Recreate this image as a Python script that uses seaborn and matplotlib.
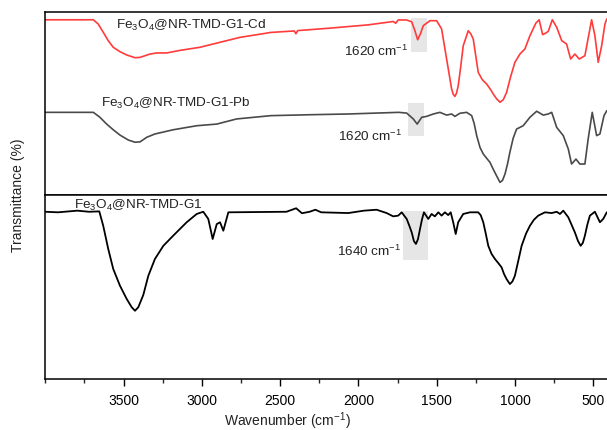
"""
FTIR spectra: Fe3O4@NR-TMD-G1 before and after Cd / Pb adsorption
"""
import numpy as np
import matplotlib.pyplot as plt
import pandas as pd
import seaborn as sns
from matplotlib.patches import Rectangle
from matplotlib.ticker import MultipleLocator

# wavenumber (cm-1) / transmittance (a.u.)
wn_cd = [4000, 3693, 3662, 3630, 3598, 3566, 3523, 3480, 3427, 3395, 3331, 3289, 3225, 3140, 3012, 2885,
         2757, 2559, 2410, 2399, 2388, 2188, 1941, 1792, 1778, 1762, 1746, 1694, 1660, 1641, 1622, 1604,
         1586, 1543, 1501, 1469, 1437, 1405, 1395, 1384, 1374, 1363, 1347, 1331, 1299, 1283, 1267, 1251,
         1235, 1210, 1181, 1160, 1139, 1118, 1096, 1075, 1054, 1030, 1001, 969, 937, 905, 867, 846, 824,
         803, 788, 762, 734, 702, 671, 645, 618, 590, 554, 511, 490, 469, 447, 426, 414, 400]
t_cd = [95.6, 95.6, 93.3, 88.8, 84.2, 80.6, 78.2, 76.4, 74.9, 75.1, 76.9, 77.5, 77.5, 78.9, 80.6, 83.3,
        86.0, 88.7, 89.5, 88.0, 89.7, 91.0, 92.8, 94.5, 94.7, 93.7, 95.5, 95.5, 94.5, 90.0, 84.7, 88.0,
        92.4, 95.1, 95.1, 90.6, 74.2, 57.8, 55.0, 53.8, 55.5, 59.6, 70.0, 81.4, 89.6, 88.0, 85.1, 76.0,
        66.9, 63.0, 60.5, 58.0, 55.1, 52.5, 50.6, 52.0, 56.0, 64.0, 72.4, 76.9, 79.7, 86.9, 93.8, 95.6, 87.5,
        88.4, 89.3, 95.6, 91.5, 84.2, 82.4, 74.2, 76.9, 74.2, 76.0, 95.6, 86.9, 72.4, 81.4, 93.3, 96.0, 96.0]

wn_pb = [4000, 3693, 3651, 3608, 3566, 3523, 3470, 3427, 3395, 3352, 3300, 3183, 3033, 2905, 2778, 2559,
         2312, 2067, 1743, 1692, 1650, 1625, 1596, 1565, 1522, 1480, 1437, 1405, 1384, 1352, 1309, 1277,
         1261, 1245, 1224, 1203, 1181, 1160, 1139, 1118, 1096, 1080, 1064, 1048, 1033, 1012, 990, 948,
         905, 862, 820, 788, 766, 734, 692, 660, 639, 611, 586, 554, 533, 507, 479, 458, 432, 414, 400]
t_pb = [45.1, 45.1, 42.4, 38.7, 35.6, 32.7, 30.0, 28.8, 29.0, 31.5, 33.3, 35.6, 37.8, 38.7, 41.5, 43.3,
        43.8, 44.2, 45.1, 44.7, 41.5, 38.7, 42.4, 42.9, 44.2, 45.1, 43.6, 44.2, 42.9, 44.6, 45.1, 43.3,
        39.0, 32.4, 26.0, 22.4, 20.0, 17.8, 14.0, 10.5, 6.9, 8.0, 11.5, 17.0, 23.3, 31.0, 36.0, 37.8,
        42.4, 45.7, 43.6, 44.2, 45.1, 36.9, 32.4, 25.1, 16.9, 19.6, 16.9, 16.9, 30.6, 45.1, 32.4, 33.3,
        43.3, 46.0, 46.0]

wn_g1 = [4000, 3919, 3795, 3721, 3655, 3630, 3598, 3566, 3523, 3480, 3448, 3427, 3406, 3374, 3342, 3300,
         3246, 3183, 3097, 3033, 2991, 2959, 2931, 2905, 2884, 2863, 2831, 2460, 2398, 2361, 2312, 2275,
         2238, 2065, 1965, 1884, 1820, 1778, 1746, 1724, 1692, 1676, 1660, 1646, 1633, 1620, 1607, 1595,
         1582, 1554, 1533, 1512, 1490, 1469, 1448, 1427, 1411, 1395, 1379, 1363, 1331, 1288, 1235, 1219,
         1203, 1187, 1171, 1150, 1128, 1107, 1086, 1070, 1054, 1033, 1017, 1001, 980, 958, 930, 905, 880,
         852, 809, 766, 734, 713, 692, 660, 640, 618, 598, 581, 567, 554, 538, 522, 490, 458, 437, 414, 400]
t_g1 = [90.9, 90.6, 91.5, 90.9, 91.1, 83.3, 70.7, 59.8, 50.7, 43.5, 39.0, 37.1, 39.0, 45.7, 56.1, 65.2,
        72.4, 77.9, 85.2, 89.7, 90.9, 87.0, 76.1, 84.2, 85.2, 80.6, 90.6, 90.9, 92.8, 90.1, 90.9, 92.0,
        90.6, 90.2, 91.5, 92.0, 90.2, 88.4, 88.8, 90.6, 87.0, 83.5, 79.7, 75.0, 73.4, 76.0, 81.5, 86.5,
        90.6, 87.0, 89.7, 88.4, 90.6, 88.8, 90.6, 89.1, 90.6, 85.2, 78.8, 85.2, 89.7, 90.6, 90.6, 89.0,
        85.2, 79.0, 72.4, 68.0, 65.2, 63.0, 60.7, 57.0, 54.3, 51.6, 53.0, 56.1, 64.0, 72.4, 79.0, 83.3, 86.5,
        88.8, 90.6, 90.2, 90.9, 89.7, 91.5, 87.9, 84.0, 79.7, 75.0, 72.4, 74.0, 77.9, 84.0, 88.8, 90.9,
        85.2, 87.0, 90.6, 91.0]

sns.set_theme(style="white")
plt.rcParams['font.family'] = ['Liberation Sans', 'DejaVu Sans']
plt.rcParams['mathtext.fontset'] = 'custom'
plt.rcParams['mathtext.rm'] = 'Liberation Sans'
plt.rcParams['mathtext.it'] = 'Liberation Sans:italic'
plt.rcParams['mathtext.bf'] = 'Liberation Sans:bold'

df_cd = pd.DataFrame({"wn": wn_cd, "T": t_cd})
df_pb = pd.DataFrame({"wn": wn_pb, "T": t_pb})
df_g1 = pd.DataFrame({"wn": wn_g1, "T": t_g1})

fig = plt.figure(figsize=(6.07, 4.31), dpi=100)
ax1 = fig.add_axes([0.0746, 0.5452, 0.9287, 0.4253])
ax2 = fig.add_axes([0.0746, 0.1183, 0.9287, 0.4269], sharex=ax1)

# shaded regions around the C=O / N-H band
for ax, (x0, x1, y0, y1) in [(ax1, (1663, 1563, 78.2, 96.4)), (ax1, (1681, 1581, 32.4, 50.2)),
                             (ax2, (1718, 1558, 64.8, 91.5))]:
    ax.add_patch(Rectangle((x1, y0), x0 - x1, y1 - y0, facecolor='#e6e6e6', edgecolor='none', zorder=0))

sns.lineplot(data=df_cd, x="wn", y="T", color="#ff3b3b", lw=1.2, ax=ax1)
sns.lineplot(data=df_pb, x="wn", y="T", color="#4a4a4a", lw=1.2, ax=ax1)
sns.lineplot(data=df_g1, x="wn", y="T", color="black", lw=1.3, ax=ax2)

fs = 9.7
ax1.text(3549, 93.3, r"Fe$_3$O$_4$@NR-TMD-G1-Cd", fontsize=fs, va='center', color='#222222')
ax1.text(3644, 50.7, r"Fe$_3$O$_4$@NR-TMD-G1-Pb", fontsize=fs, va='center', color='#222222')
ax1.text(1684, 78.7, r"1620 cm$^{-1}$", fontsize=fs, va='center', ha='right', color='#222222')
ax1.text(1718, 32.4, r"1620 cm$^{-1}$", fontsize=fs, va='center', ha='right', color='#222222')
ax2.text(3819, 95.1, r"Fe$_3$O$_4$@NR-TMD-G1", fontsize=fs, va='center', color='#222222')
ax2.text(1724, 69.7, r"1640 cm$^{-1}$", fontsize=fs, va='center', ha='right', color='#222222')

for ax in (ax1, ax2):
    ax.set_ylim(0, 100)
    ax.set_yticks([])
    ax.set_xlabel("")
    ax.set_ylabel("")
    for s in ax.spines.values():
        s.set_color('black')
        s.set_linewidth(1.1)

ax1.set_xlim(4000, 400)
ax2.xaxis.set_major_locator(MultipleLocator(500))
ax2.xaxis.set_minor_locator(MultipleLocator(250))
ax1.tick_params(axis='x', which='both', bottom=False, labelbottom=False)
ax2.tick_params(axis='x', which='major', bottom=True, direction='out', length=5, width=1, labelsize=10, colors='black', pad=5)
ax2.tick_params(axis='x', which='minor', bottom=True, direction='out', length=3, width=1)
ax2.set_xticks([3500, 3000, 2500, 2000, 1500, 1000, 500])
fig.text(0.474, 0.022, r"Wavenumber (cm$^{-1}$)", ha='center', va='center', fontsize=10, color='#222222')
fig.text(0.03, 0.548, "Transmittance (%)", rotation=90, va='center', ha='center', fontsize=10, color='#222222')

plt.savefig("out.png", dpi=100)
